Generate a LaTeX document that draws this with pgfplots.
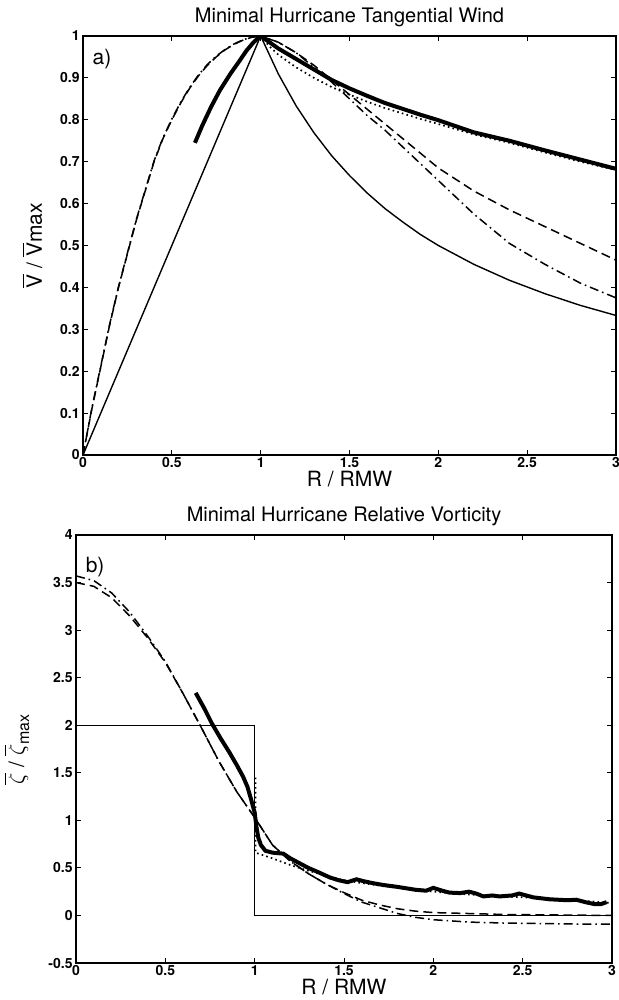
\documentclass[border=0pt]{standalone}
\usepackage{pgfplots}
\pgfplotsset{compat=1.18}
\usepackage{fontspec}
\setmainfont{TeX Gyre Heros}
\begin{document}
\begin{tikzpicture}
\path[use as bounding box] (0,0) rectangle (309.5pt,500pt);
\pgfplotsset{
  mystyle/.style={
    scale only axis,
    xmin=0, xmax=3,
    xtick={0,0.5,1,1.5,2,2.5,3},
    tick align=inside,
    xtick pos=both, ytick pos=both,
    major tick length=2.5pt,
    axis line style={line width=0.6pt},
    every tick/.style={black, line width=0.5pt},
    /pgf/number format/assume math mode=true,
    /pgf/number format/fixed,
    ticklabel style={font=\fontsize{7}{8}\selectfont\bfseries},
    xticklabel style={inner sep=1.2pt},
    yticklabel style={inner sep=1.5pt},
    title style={font=\fontsize{10}{11}\selectfont, at={(0.5,1)}, anchor=base, yshift=0.5pt},
    xlabel style={font=\fontsize{10.5}{12}\selectfont, at={(axis description cs:0.5,0)}, anchor=base, yshift=-16pt},
    ylabel style={font=\fontsize{10.5}{12}\selectfont, rotate=0},
    clip=true,
  },
  thinsolid/.style={black, line width=0.7pt},
  thicksolid/.style={black, line width=2pt},
  mydashed/.style={black, line width=0.75pt, dash pattern=on 4.5pt off 2.5pt},
  mydashdot/.style={black, line width=0.75pt, dash pattern=on 4.5pt off 2pt on 0.8pt off 2pt},
  mydotted/.style={black, line width=0.85pt, dash pattern=on 0.8pt off 1.6pt},
}
% ---------------- top panel ----------------
\begin{axis}[mystyle,
  at={(41.5pt,272.5pt)}, anchor=south west,
  width=266.5pt, height=209.5pt,
  ymin=0, ymax=1,
  ytick={0,0.1,0.2,0.3,0.4,0.5,0.6,0.7,0.8,0.9,1},
  title={Minimal Hurricane Tangential Wind},
  xlabel={R / RMW},
  ylabel={$\overline{\mbox{V}}$ / $\overline{\mbox{V}}$max},
  ylabel style={at={(axis description cs:-0.095,0.5)}, anchor=center, rotate=0},
]
% thin solid (Rankine)
\addplot[thinsolid] coordinates {
(0,0) (1,1) (1.1,0.909) (1.2,0.833) (1.3,0.769) (1.4,0.714) (1.5,0.667) (1.6,0.625)
(1.7,0.588) (1.8,0.556) (1.9,0.526) (2.0,0.5) (2.2,0.455) (2.4,0.417) (2.6,0.385)
(2.8,0.357) (3.0,0.333)};
% dashed
\addplot[mydashed] coordinates {
(0,0) (0.05,0.11) (0.1,0.21) (0.15,0.31) (0.2,0.40) (0.25,0.48) (0.3,0.56) (0.35,0.63)
(0.4,0.70) (0.45,0.755) (0.5,0.80) (0.55,0.84) (0.6,0.875) (0.65,0.905) (0.7,0.93)
(0.75,0.95) (0.8,0.967) (0.85,0.98) (0.9,0.99) (0.95,0.997) (1,1)
(1.1,0.985) (1.2,0.96) (1.3,0.93) (1.4,0.895) (1.5,0.86) (1.6,0.825) (1.7,0.79)
(1.8,0.755) (1.9,0.72) (2.0,0.685) (2.2,0.63) (2.4,0.585) (2.6,0.545) (2.8,0.505) (3.0,0.465)};
% dash-dot
\addplot[mydashdot] coordinates {
(0,0) (0.05,0.112) (0.1,0.212) (0.15,0.312) (0.2,0.402) (0.25,0.482) (0.3,0.562) (0.35,0.632)
(0.4,0.702) (0.45,0.757) (0.5,0.802) (0.55,0.842) (0.6,0.877) (0.65,0.907) (0.7,0.932)
(0.75,0.952) (0.8,0.968) (0.85,0.981) (0.9,0.991) (0.95,0.997) (1,1)
(1.1,0.985) (1.2,0.96) (1.3,0.925) (1.4,0.89) (1.5,0.85) (1.6,0.81) (1.7,0.775)
(1.8,0.735) (1.9,0.695) (2.0,0.655) (2.2,0.575) (2.4,0.505) (2.6,0.455) (2.8,0.41) (3.0,0.375)};
% dotted
\addplot[mydotted] coordinates {
(1,1) (1.05,0.975) (1.1,0.955) (1.2,0.925) (1.3,0.9) (1.4,0.878) (1.5,0.86) (1.6,0.843)
(1.7,0.828) (1.8,0.815) (1.9,0.802) (2.0,0.79) (2.2,0.765) (2.4,0.745) (2.6,0.722)
(2.8,0.70) (3.0,0.68)};
% thick solid
\addplot[thicksolid] coordinates {
(0.63,0.745) (0.67,0.785) (0.72,0.83) (0.77,0.87) (0.83,0.91) (0.88,0.94) (0.92,0.965)
(0.96,0.985) (1.0,1.0) (1.05,0.985) (1.1,0.97) (1.2,0.945) (1.3,0.92) (1.4,0.895)
(1.5,0.875) (1.6,0.857) (1.7,0.84) (1.8,0.826) (1.9,0.812) (2.0,0.799) (2.2,0.77)
(2.4,0.75) (2.6,0.727) (2.8,0.705) (3.0,0.683)};
\node[font=\fontsize{10.5}{12}\selectfont] at (axis cs:0.107,0.945) {a)};
\end{axis}
% ---------------- bottom panel ----------------
\begin{axis}[mystyle,
  at={(38pt,18.5pt)}, anchor=south west,
  width=268pt, height=214pt,
  ymin=-0.5, ymax=4,
  ytick={-0.5,0,0.5,1,1.5,2,2.5,3,3.5,4},
  title={Minimal Hurricane Relative Vorticity},
  xlabel={R / RMW},
  ylabel={$\overline{\zeta}$ / $\overline{\zeta}_{\mbox{\fontsize{8}{9}\selectfont max}}$},
  ylabel style={at={(axis description cs:-0.11,0.5)}, anchor=center, rotate=0},
]
% thin solid step
\addplot[thinsolid] coordinates {(0,2) (1,2) (1,0) (3,0)};
% dashed
\addplot[mydashed] coordinates {
(0,3.5) (0.1,3.46) (0.2,3.34) (0.3,3.15) (0.4,2.92) (0.5,2.66) (0.6,2.33) (0.7,1.98)
(0.8,1.62) (0.9,1.30) (1.0,1.03) (1.1,0.74) (1.2,0.57) (1.3,0.44) (1.4,0.33) (1.5,0.24)
(1.6,0.16) (1.7,0.11) (1.8,0.07) (1.9,0.045) (2.0,0.03) (2.2,0.02) (2.4,0.01) (2.7,0.005) (3.0,0.0)};
% dash-dot
\addplot[mydashdot] coordinates {
(0,3.57) (0.1,3.52) (0.2,3.39) (0.3,3.19) (0.4,2.94) (0.5,2.67) (0.6,2.33) (0.7,1.98)
(0.8,1.62) (0.9,1.30) (1.0,1.03) (1.1,0.74) (1.2,0.57) (1.3,0.44) (1.4,0.33) (1.5,0.23)
(1.6,0.14) (1.7,0.08) (1.8,0.02) (1.9,-0.02) (2.0,-0.045) (2.2,-0.07) (2.4,-0.08)
(2.6,-0.085) (2.8,-0.09) (3.0,-0.09)};
% dotted
\addplot[mydotted] coordinates {
(1.005,1.45) (1.005,0.66) (1.1,0.6) (1.2,0.53) (1.3,0.47) (1.4,0.42) (1.5,0.37) (1.6,0.34)
(1.8,0.29) (2.0,0.25) (2.2,0.22) (2.4,0.2) (2.6,0.18) (2.8,0.16) (3.0,0.13)};
% thick solid
\addplot[thicksolid] coordinates {
(0.67,2.34) (0.72,2.17) (0.76,2.02) (0.81,1.86) (0.86,1.71) (0.9,1.58) (0.935,1.46)
(0.96,1.35) (0.98,1.22) (1.0,1.08) (1.01,0.93) (1.02,0.82) (1.035,0.74) (1.06,0.68)
(1.1,0.66) (1.16,0.65) (1.2,0.6) (1.25,0.55) (1.3,0.5) (1.35,0.46) (1.42,0.40) (1.47,0.37)
(1.52,0.35) (1.57,0.38) (1.61,0.36) (1.66,0.34) (1.72,0.32) (1.8,0.30) (1.9,0.27)
(1.96,0.26) (2.0,0.29) (2.05,0.26) (2.09,0.24) (2.15,0.235) (2.2,0.25) (2.24,0.23)
(2.28,0.20) (2.33,0.21) (2.37,0.20) (2.44,0.21) (2.48,0.23) (2.52,0.21) (2.56,0.19)
(2.65,0.17) (2.75,0.16) (2.8,0.165) (2.85,0.14) (2.9,0.12) (2.94,0.12) (2.97,0.14)};
\node[font=\fontsize{10.5}{12}\selectfont] at (axis cs:0.107,3.66) {b)};
\end{axis}
\end{tikzpicture}
\end{document}
